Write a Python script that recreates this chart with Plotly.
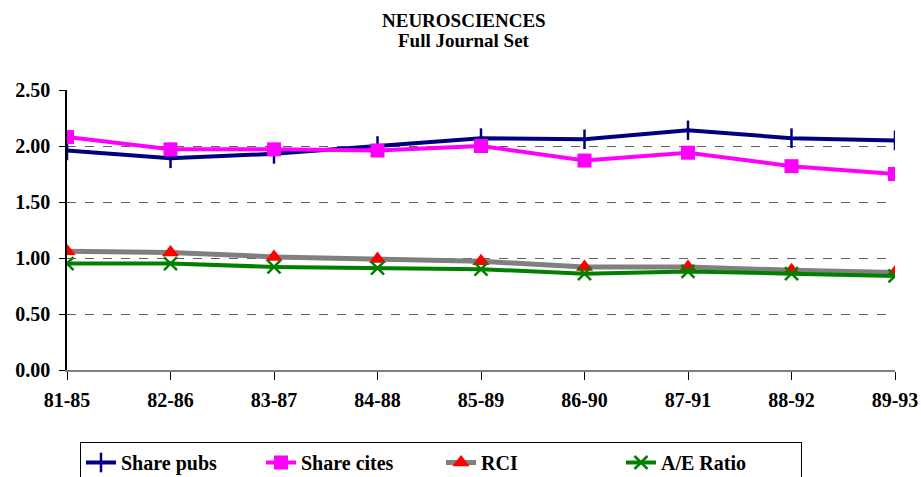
import plotly.graph_objects as go

categories = ["81-85", "82-86", "83-87", "84-88", "85-89", "86-90", "87-91", "88-92", "89-93"]
share_pubs = [1.96, 1.89, 1.93, 2.00, 2.07, 2.06, 2.14, 2.07, 2.05]
share_cites = [2.08, 1.97, 1.97, 1.96, 2.00, 1.87, 1.94, 1.82, 1.75]
rci = [1.06, 1.05, 1.01, 0.99, 0.97, 0.92, 0.92, 0.89, 0.87]
ae_ratio = [0.95, 0.95, 0.92, 0.91, 0.90, 0.86, 0.88, 0.86, 0.84]
y_ticks = [0, 0.5, 1.0, 1.5, 2.0, 2.5]
y_labels = ["0.00", "0.50", "1.00", "1.50", "2.00", "2.50"]

FONT = "Liberation Serif, Times New Roman, Times, serif"
xs = list(range(len(categories)))

L, R, T, B = 67, 26, 90, 107
PW, PH = 921 - L - R, 477 - T - B

fig = go.Figure()
fig.add_trace(go.Scatter(
    x=xs, y=share_pubs, name="Share pubs", mode="lines+markers",
    line=dict(color="#000080", width=4),
    marker=dict(symbol="line-ns-open", size=14, line=dict(color="#000080", width=2.5)),
))
fig.add_trace(go.Scatter(
    x=xs, y=share_cites, name="Share cites", mode="lines+markers",
    line=dict(color="#FF00FF", width=4),
    marker=dict(symbol="square", size=14, color="#FF00FF"),
))
fig.add_trace(go.Scatter(
    x=xs, y=rci, name="RCI", mode="lines+markers",
    line=dict(color="#808080", width=5),
    marker=dict(symbol="triangle-up", size=15, color="#FF0000"),
))
fig.add_trace(go.Scatter(
    x=xs, y=ae_ratio, name="A/E Ratio", mode="lines+markers",
    line=dict(color="#008000", width=4),
    marker=dict(symbol="x-thin-open", size=13, line=dict(color="#008000", width=2.5)),
))

fig.update_layout(
    width=921, height=477,
    margin=dict(l=L, r=R, t=T, b=B, autoexpand=False),
    paper_bgcolor="white", plot_bgcolor="white",
    font=dict(family=FONT, size=20, color="black"),
    showlegend=True,
    legend=dict(
        orientation="h", x=(80 - L) / PW, y=-(442 - 370) / PH, xanchor="left", yanchor="top",
        bordercolor="black", borderwidth=1,
        font=dict(family=FONT, size=20, color="black", weight="bold"),
        entrywidth=135, entrywidthmode="pixels", tracegroupgap=0,
    ),
)
fig.add_annotation(text="<b>NEUROSCIENCES</b>", xref="paper", yref="paper",
                   x=(464 - L) / PW, y=(370 - 20) / PH,
                   showarrow=False, font=dict(family=FONT, size=19),
                   xanchor="center", yanchor="middle")
fig.add_annotation(text="<b>Full Journal Set</b>", xref="paper", yref="paper",
                   x=(464 - L) / PW, y=(370 - 41) / PH,
                   showarrow=False, font=dict(family=FONT, size=19),
                   xanchor="center", yanchor="middle")

fig.update_xaxes(
    range=[0, len(categories) - 1], tickmode="array", tickvals=xs, ticktext=categories,
    showgrid=False, zeroline=False,
    showline=True, linecolor="#808080", linewidth=2,
    ticks="outside", ticklen=8, tickcolor="black", tickwidth=1,
    ticklabelstandoff=3,
    tickfont=dict(family=FONT, size=20, color="black", weight="bold"),
)
fig.update_yaxes(
    range=[0, 2.5], tickmode="array", tickvals=y_ticks, ticktext=y_labels,
    showgrid=True, gridcolor="#606060", griddash="dash", gridwidth=1,
    zeroline=False,
    showline=True, linecolor="black", linewidth=1.5,
    ticks="outside", ticklen=6, tickcolor="black",
    ticklabelstandoff=5,
    tickfont=dict(family=FONT, size=20, color="black", weight="bold"),
)

fig.write_html("out.html")
